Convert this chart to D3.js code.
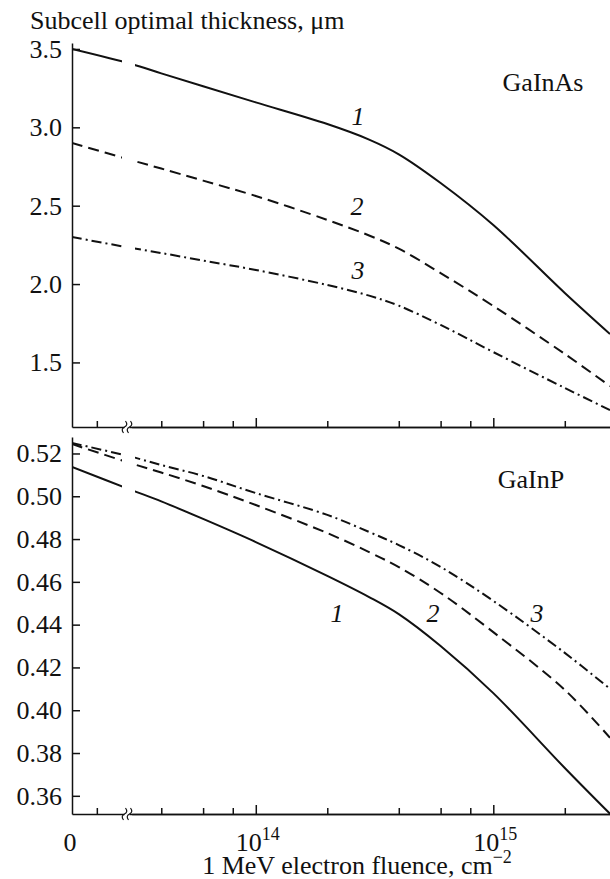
<!DOCTYPE html>
<html>
<head>
<meta charset="utf-8">
<script src="https://cdn.jsdelivr.net/npm/d3@7"></script>
<style>
body { margin: 0; background: #fff; }
svg { display: block; font-family: 'Liberation Serif', 'Times New Roman', serif; }
</style>
</head>
<body>
<script>
// fluence, cm^-2 (0 sits left of the axis break)
const fluence = [0, 3e13, 4e13, 6e13, 1e14, 2e14, 3e14, 4e14, 6e14, 1e15, 2e15, 3.1e15];

// GaInAs subcell, um
const gainas1 = [3.50, 3.404, 3.344, 3.262, 3.159, 3.021, 2.922, 2.828, 2.645, 2.377, 1.943, 1.681];
const gainas2 = [2.90, 2.79, 2.737, 2.66, 2.562, 2.409, 2.310, 2.226, 2.070, 1.860, 1.554, 1.349];
const gainas3 = [2.30, 2.23, 2.198, 2.15, 2.090, 1.994, 1.926, 1.862, 1.739, 1.566, 1.337, 1.196];

// GaInP subcell, um
const gainp1 = [0.5137, 0.5029, 0.4976, 0.4894, 0.4786, 0.4628, 0.4529, 0.4449, 0.4300, 0.4080, 0.3730, 0.3516];
const gainp2 = [0.5244, 0.5153, 0.5111, 0.5048, 0.4959, 0.4828, 0.4739, 0.4669, 0.4548, 0.4365, 0.4095, 0.3871];
const gainp3 = [0.5249, 0.5184, 0.5146, 0.5095, 0.5015, 0.4913, 0.4833, 0.4772, 0.4670, 0.4511, 0.4268, 0.4100];

const topTicks = [1.5, 2.0, 2.5, 3.0, 3.5];
const botTicks = [0.36, 0.38, 0.40, 0.42, 0.44, 0.46, 0.48, 0.50, 0.52];
const minorTicks = [4e13, 6e13, 8e13, 2e14, 4e14, 6e14, 8e14, 2e15];
const majorTicks = [1e14, 1e15];
const zeroTicks = [1.25e13];

const width = 610, height = 879;
const left = 72, right = 610;
const fBreak = 3e13;

const xLin = d3.scaleLinear().domain([0, fBreak]).range([left, 131.6]);
const xLog = d3.scaleLog().domain([fBreak, 3.1e15]).range([131.6, right]);
const xf = f => f < fBreak ? xLin(f) : xLog(f);

const svg = d3.select('body').append('svg')
    .attr('width', width)
    .attr('height', height);

const panels = [
    { y: d3.scaleLinear().domain([1.088, 3.538]).range([427, 43]), ticks: topTicks, fmt: d3.format('.1f'),
      series: [gainas1, gainas2, gainas3], name: 'GaInAs', nameX: 543, nameY: 91,
      nums: [[358, 125], [357, 215], [358, 279]] },
    { y: d3.scaleLinear().domain([0.3515, 0.5277]).range([814, 437]), ticks: botTicks, fmt: d3.format('.2f'),
      series: [gainp1, gainp2, gainp3], name: 'GaInP', nameX: 531, nameY: 488,
      nums: [[337, 622], [433, 622], [537, 622]] }
];

const dashes = [null, '11,6', '10,4,2,4'];

panels.forEach((p, i) => {
    const g = svg.append('g');
    const [yb, yt] = p.y.range();

    // gap in the curves at the axis break
    const clip = svg.append('clipPath').attr('id', 'clip' + i);
    clip.append('rect').attr('x', left).attr('y', yt - 5).attr('width', 122 - left).attr('height', yb - yt + 10);
    clip.append('rect').attr('x', 135).attr('y', yt - 5).attr('width', right - 135).attr('height', yb - yt + 10);

    const line = d3.line()
        .x((d, k) => xf(fluence[k]))
        .y(d => p.y(d))
        .curve(d3.curveCatmullRom.alpha(0.5));

    p.series.forEach((s, k) => {
        g.append('path')
            .attr('d', line(s))
            .attr('clip-path', `url(#clip${i})`)
            .attr('fill', 'none')
            .attr('stroke', '#111')
            .attr('stroke-width', 2)
            .attr('stroke-dasharray', dashes[k]);
    });

    // y axis, ticks pointing inside
    g.append('g')
        .attr('transform', `translate(${left},0)`)
        .call(d3.axisLeft(p.y).tickValues(p.ticks).tickFormat(p.fmt).tickSizeInner(-8).tickSizeOuter(0).tickPadding(10))
        .attr('font-family', null)
        .attr('font-size', 26)
        .call(a => a.selectAll('text').attr('fill', '#111'))
        .call(a => a.selectAll('line, path').attr('stroke', '#111').attr('stroke-width', 1.5));

    // x axis pieces
    const xa = g.append('g').attr('transform', `translate(0,${yb})`);
    xa.append('g').call(d3.axisBottom(xLin).tickValues(zeroTicks).tickSizeInner(-6).tickSizeOuter(0).tickFormat(''));
    xa.append('g').call(d3.axisBottom(xLog).tickValues(minorTicks).tickSizeInner(-6).tickSizeOuter(0).tickFormat(''));
    xa.append('g').call(d3.axisBottom(xLog).tickValues(majorTicks).tickSizeInner(-9).tickSizeOuter(0).tickFormat(''));
    xa.selectAll('line, path').attr('stroke', '#111').attr('stroke-width', 1.5);

    // break marks
    xa.append('rect').attr('x', 124.5).attr('y', -3).attr('width', 5).attr('height', 6).attr('fill', '#fff');
    [124.5, 129.5].forEach(c => {
        xa.append('path')
            .attr('d', `M${c - 1},6 Q${c - 4},2 ${c},0 Q${c + 4},-2 ${c + 1},-6`)
            .attr('fill', 'none').attr('stroke', '#111').attr('stroke-width', 1.2);
    });

    g.append('text')
        .attr('x', p.nameX).attr('y', p.nameY)
        .attr('text-anchor', 'middle')
        .attr('font-size', 26).attr('fill', '#111')
        .text(p.name);

    p.nums.forEach((n, k) => {
        g.append('text')
            .attr('x', n[0]).attr('y', n[1])
            .attr('text-anchor', 'middle')
            .attr('font-size', 26).attr('font-style', 'italic').attr('fill', '#111')
            .text(k + 1);
    });
});

// axis titles
svg.append('text')
    .attr('x', 30).attr('y', 29)
    .attr('font-size', 26).attr('fill', '#111')
    .text('Subcell optimal thickness, μm');

svg.append('text')
    .attr('x', xLin(0) - 2).attr('y', 851)
    .attr('text-anchor', 'middle')
    .attr('font-size', 26).attr('fill', '#111')
    .text('0');

majorTicks.forEach(v => {
    const t = svg.append('text')
        .attr('x', xLog(v) + 2).attr('y', 851)
        .attr('text-anchor', 'middle')
        .attr('font-size', 26).attr('fill', '#111');
    t.append('tspan').text('10');
    t.append('tspan').attr('dy', -11).attr('font-size', 18).text(Math.round(Math.log10(v)));
});

const xt = svg.append('text')
    .attr('x', 357).attr('y', 874)
    .attr('text-anchor', 'middle')
    .attr('font-size', 26).attr('fill', '#111');
xt.append('tspan').text('1 MeV electron fluence, cm');
xt.append('tspan').attr('dy', -11).attr('font-size', 18).text('−2');
</script>
</body>
</html>
